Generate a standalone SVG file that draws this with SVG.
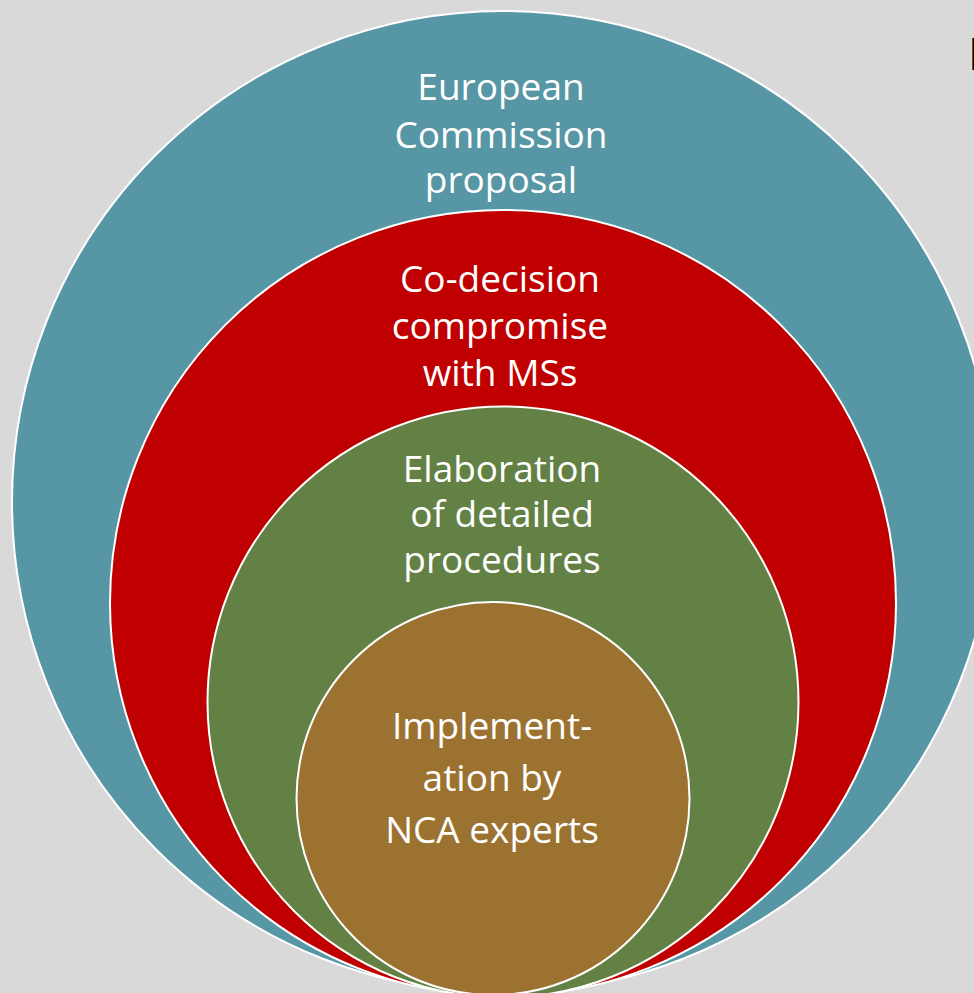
<svg xmlns="http://www.w3.org/2000/svg" width="974" height="993" viewBox="0 0 974 993">
  <style>
    .ring { stroke: #ffffff; stroke-width: 2; }
    .label { font-family: "Open Sans", "Liberation Sans", sans-serif; font-size: 37px; fill: #ffffff; text-anchor: middle; }
  </style>
  <!-- slide background -->
  <rect x="0" y="0" width="974" height="993" fill="#d9d9d9"/>

  <!-- nested circles, outermost first -->
  <g id="commission">
    <circle class="ring" cx="503" cy="502" r="491" fill="#5796a5"/>
    <text class="label" x="501" y="100">European</text>
    <text class="label" x="501" y="148">Commission</text>
    <text class="label" x="501" y="193">proposal</text>
  </g>
  <g id="codecision">
    <circle class="ring" cx="503" cy="603" r="393" fill="#c00000"/>
    <text class="label" x="500" y="292">Co-decision</text>
    <text class="label" x="500" y="339">compromise</text>
    <text class="label" x="500" y="386">with MSs</text>
  </g>
  <g id="elaboration">
    <circle class="ring" cx="503" cy="702" r="295.5" fill="#638144"/>
    <text class="label" x="502" y="482">Elaboration</text>
    <text class="label" x="502" y="527">of detailed</text>
    <text class="label" x="502" y="573">procedures</text>
  </g>
  <g id="implementation">
    <circle class="ring" cx="493" cy="798.5" r="196.5" fill="#9c7231"/>
    <text class="label" x="492" y="739">Implement-</text>
    <text class="label" x="492" y="791">ation by</text>
    <text class="label" x="492" y="843">NCA experts</text>
  </g>

  <!-- no connectors in this figure -->
  <g id="connectors"/>

  <!-- edge of a heading beyond the right border -->
  <text x="968" y="70" font-family="Liberation Sans, sans-serif" font-size="47" fill="#000000">I</text>
</svg>
